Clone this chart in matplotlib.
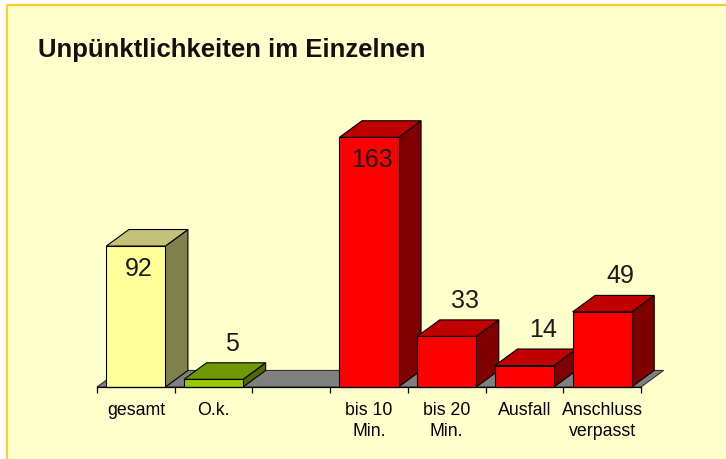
import numpy as np
import matplotlib
matplotlib.use("Agg")
import matplotlib.pyplot as plt
from matplotlib.patches import Polygon, Rectangle

plt.rcParams['font.family'] = ['Liberation Sans', 'DejaVu Sans']

# data
categories = ['gesamt', 'O.k.', '', 'bis 10\nMin.', 'bis 20\nMin.', 'Ausfall', 'Anschluss\nverpasst']
values = [92, 5, None, 163, 33, 14, 49]
front_colors = ['#FFFF99', '#99CC00', None, '#FF0000', '#FF0000', '#FF0000', '#FF0000']
top_colors = ['#C2C27A', '#6E9A00', None, '#C00000', '#C00000', '#C00000', '#C00000']
side_colors = ['#80804D', '#4D6B00', None, '#800000', '#800000', '#800000', '#800000']

W, H = 726, 460
fig = plt.figure(figsize=(W / 100, H / 100), dpi=100, facecolor='white')

# yellow panel with border (only top/left visible)
fig.patches.append(Rectangle((7 / W, -0.05), 1.1, 1 - 6 / H + 0.05, transform=fig.transFigure,
                             facecolor='#FFFFCC', edgecolor='#FFCC33', linewidth=1.6, zorder=-10))

fig.text(38 / W, 1 - 57 / H, 'Unpünktlichkeiten im Einzelnen', fontsize=18.5,
         fontweight='bold', ha='left', va='baseline', color='#111111')

ax = fig.add_axes([97 / W, (H - 388) / H, 544 / W, 288 / H])
ax.set_zorder(5)
ax.set_facecolor('none')
n = len(categories)
ax.set_xlim(-0.5, n - 0.5)
ax.set_ylim(0, 188)

w = 0.76
ddx, ddy = 0.29, 10.8
ec, lw = 'black', 0.8

# floor
floor = Polygon([(-0.5, 0), (n - 0.5, 0), (n - 0.5 + ddx, ddy), (-0.5 + ddx, ddy)],
                closed=True, facecolor='#808080', edgecolor='#333333', linewidth=lw,
                clip_on=False, zorder=1)
ax.add_patch(floor)

for i, v in enumerate(values):
    if v is None:
        continue
    l, r = i - w / 2, i + w / 2
    z = 2 + i
    side = Polygon([(r, 0), (r + ddx, ddy), (r + ddx, v + ddy), (r, v)], closed=True,
                   facecolor=side_colors[i], edgecolor=ec, linewidth=lw, clip_on=False, zorder=z)
    top = Polygon([(l, v), (r, v), (r + ddx, v + ddy), (l + ddx, v + ddy)], closed=True,
                  facecolor=top_colors[i], edgecolor=ec, linewidth=lw, clip_on=False, zorder=z)
    front = Rectangle((l, 0), w, v, facecolor=front_colors[i], edgecolor=ec,
                      linewidth=lw, clip_on=False, zorder=z)
    for p in (side, top, front):
        ax.add_patch(p)
    if v > 80:
        ax.text(i + 0.04, v - 14, str(v), ha='center', va='center', fontsize=18,
                color='#1a1a1a', zorder=20)
    else:
        ax.text(i + 0.24, v + 24, str(v), ha='center', va='center', fontsize=18,
                color='#1a1a1a', zorder=20)

for s in ['top', 'right', 'left']:
    ax.spines[s].set_visible(False)
ax.spines['bottom'].set_color('black')
ax.spines['bottom'].set_linewidth(0.9)
ax.spines['bottom'].set_zorder(30)
ax.set_yticks([])
ax.set_xticks(range(n))
ax.set_xticklabels(categories, fontsize=12.8, linespacing=1.35)
ax.set_xticks(np.arange(-0.5, n), minor=True)
ax.tick_params(axis='x', which='major', length=0, pad=10)
ax.tick_params(axis='x', which='minor', length=4, width=0.9, color='black', direction='out')

fig.savefig('out.png', dpi=100, facecolor=fig.get_facecolor())
